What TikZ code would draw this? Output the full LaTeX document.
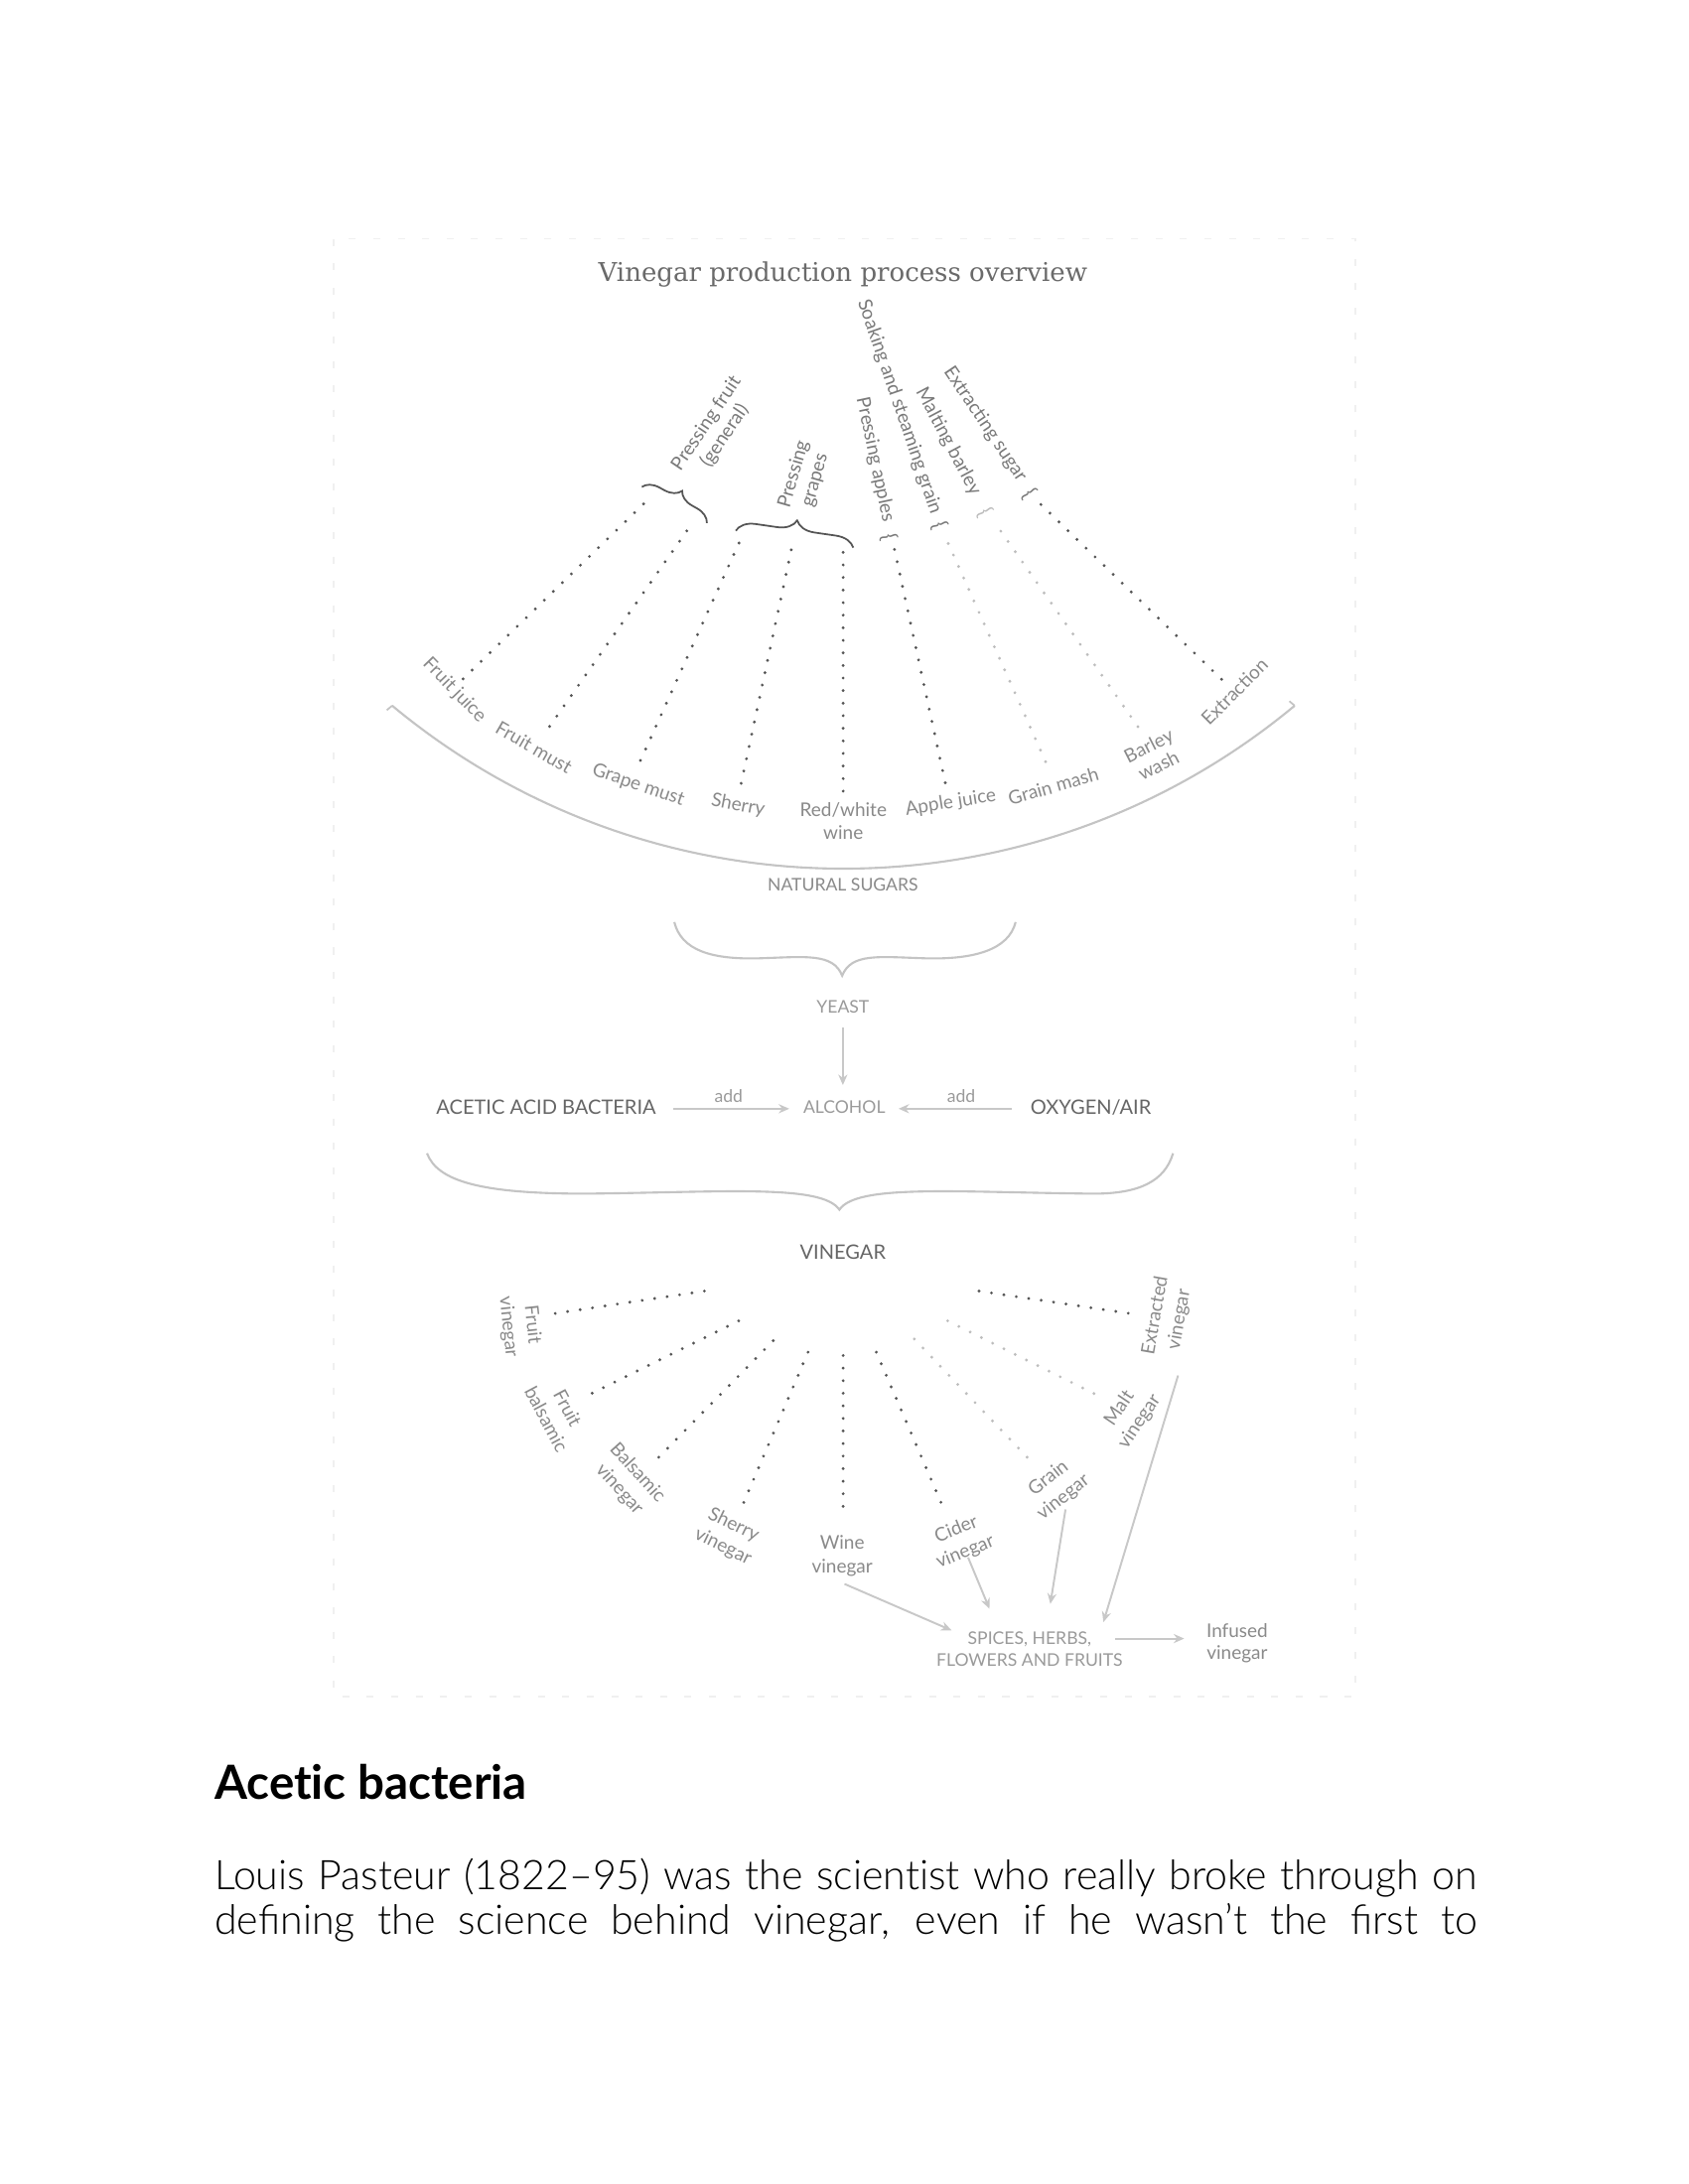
\documentclass[tikz,border=0pt]{standalone}
\usepackage{fontspec}
\usetikzlibrary{arrows.meta,decorations.pathreplacing}
\newfontfamily\lato{Lato}
\newfontfamily\slab{DejaVu Serif}
\IfFontExistsTF{Lato Light}{\newfontfamily\latolight{Lato Light}}{\newfontfamily\latolight{Lato}}
\definecolor{dotdark}{HTML}{555555}
\definecolor{dotlt}{HTML}{BDBDBD}
\definecolor{labc}{HTML}{8A8A8A}
\definecolor{procc}{HTML}{7A7A7A}
\definecolor{titlec}{HTML}{6A6A6A}
\definecolor{darkc}{HTML}{666666}
\definecolor{lightc}{HTML}{9A9A9A}
\definecolor{curvec}{HTML}{C4C4C4}
\definecolor{arrowc}{HTML}{C8C8C8}
\definecolor{framec}{HTML}{F0F0F0}
\tikzset{
  lbl/.style={font=\lato\fontsize{5.4}{6.3}\selectfont, text=labc, inner sep=0pt, align=center},
  blbl/.style={font=\lato\fontsize{5.4}{6.9}\selectfont, text=labc, inner sep=0pt, align=center},
  plbl/.style={font=\lato\fontsize{5.4}{6.3}\selectfont, text=procc, inner sep=0pt, align=center},
  bracech/.style={font=\lato\fontsize{6}{7}\selectfont, text=procc, inner sep=0pt},
  capl/.style={font=\lato\fontsize{5.0}{6.1}\selectfont, text=lightc, inner sep=0pt, align=center},
  capd/.style={font=\lato\fontsize{5.7}{6.8}\selectfont, text=darkc, inner sep=0pt},
  dotline/.style={draw=dotdark, line width=0.9pt, dash pattern=on 0pt off 3.6pt, line cap=round},
  dotlight/.style={dotline, draw=dotlt},
  arr/.style={draw=arrowc, line width=0.55pt, -{Stealth[length=3pt,width=2.6pt]}},
  bigbrace/.style={draw=curvec, line width=0.6pt},
  smallbrace/.style={draw=dotdark, line width=0.5pt, decorate},
  bodytext/.style={font=\latolight\fontsize{11.7}{14}\selectfont, anchor=base west, inner sep=0pt},
}
\begin{document}
\begin{tikzpicture}[x=0.0140264cm, y=-0.0140264cm]
\useasboundingbox (0,0) rectangle (1212,1568);
\fill[white] (0,0) rectangle (1212,1568);
% frame
\draw[framec, line width=0.5pt, dash pattern=on 2pt off 5pt] (239.6,171.5) rectangle (973,1218);
% title
\node[font=\slab\fontsize{7.4}{9}\selectfont, text=titlec, inner sep=0pt] (title) at (605,197) {Vinegar production process overview};

% ---------- top fan ----------
\draw[curvec, line width=0.6pt] (605.4,116.9) ++(129.73:506.8) coordinate (arcL)
   arc[start angle=129.73, end angle=50.27, radius=506.8] coordinate (arcR);
\draw[curvec, line width=0.5pt] (arcL) -- ++(140:5);
\draw[curvec, line width=0.5pt] (arcR) -- ++(-140:5);

\node[lbl, rotate=-46] (fjuice) at (326,495.6) {Fruit juice};
\node[lbl, rotate=-30] (fmust) at (383.3,536.5) {Fruit must};
\node[lbl, rotate=-19] (gmust) at (458.1,563.8) {Grape must};
\node[lbl, rotate=-11] (sherry) at (529.7,578.3) {Sherry};
\node[lbl] (rwwine) at (605.3,589.5) {Red/white\\wine};
\node[lbl, rotate=9] (ajuice) at (682.4,576.4) {Apple juice};
\node[lbl, rotate=16] (gmash) at (756,564.5) {Grain mash};
\node[lbl, rotate=27] (bwash) at (828,542.4) {Barley\\wash};
\node[lbl, rotate=45] (extraction) at (886,496.6) {Extraction};

\node[lbl, font=\lato\fontsize{5.0}{6.0}\selectfont] (natsug) at (605,635.5) {NATURAL SUGARS};

% process labels
\node[plbl, rotate=56] (pfruit) at (513.8,308.6) {Pressing fruit\\(general)};
\node[plbl, rotate=74] (pgrapes) at (577.5,342.7) {Pressing\\grapes};
\node[plbl, rotate=-78] (papples) at (628,330) {Pressing apples};
\node[plbl, rotate=-71] (soak) at (645.5,292) {Soaking and steaming grain};
\node[plbl, rotate=-62] (malt) at (680.5,317) {Malting barley};
\node[plbl, rotate=-56] (exsugar) at (707,304.5) {Extracting sugar};
\node[bracech, rotate=-78] (brA) at (637.9,385.7) {\{};
\node[bracech, rotate=-71] (brS) at (674.2,377.5) {\{};
\node[bracech, rotate=-62, text=dotlt] (brM) at (706.7,368) {\{};
\node[bracech, rotate=-56] (brE) at (739.2,354.7) {\{};

% small braces
\coordinate (bf1) at (460.7,349.6); \coordinate (bf2) at (507.4,375.5);
\coordinate (bg1) at (528.1,381); \coordinate (bg2) at (612.5,393.2);
\draw[smallbrace, decoration={brace, amplitude=4.6pt}] (bf1) -- (bf2);
\draw[smallbrace, decoration={brace, amplitude=5.4pt}] (bg1) -- (bg2);

% dotted lines top
\coordinate (t1a) at (332.4,487.4); \coordinate (t1b) at (463.8,360);
\coordinate (t2a) at (394.5,521.5); \coordinate (t2b) at (497,375.5);
\coordinate (t3a) at (459.7,546);   \coordinate (t3b) at (532,386.4);
\coordinate (t4a) at (532,562.4);   \coordinate (t4b) at (568.9,390.5);
\coordinate (t5a) at (605.2,568);   \coordinate (t5b) at (605.2,393.2);
\coordinate (t6a) at (678.5,562);   \coordinate (t6b) at (641.5,392);
\coordinate (t7a) at (750.5,546.8); \coordinate (t7b) at (678,384.2);
\coordinate (t8a) at (816.8,521.7); \coordinate (t8b) at (714.2,375.4);
\coordinate (t9a) at (876.8,487.7); \coordinate (t9b) at (745.5,360.6);
\draw[dotline] (t1a) -- (t1b);
\draw[dotline] (t2a) -- (t2b);
\draw[dotline] (t3a) -- (t3b);
\draw[dotline] (t4a) -- (t4b);
\draw[dotline] (t5a) -- (t5b);
\draw[dotline] (t6a) -- (t6b);
\draw[dotlight] (t7a) -- (t7b);
\draw[dotlight] (t8a) -- (t8b);
\draw[dotline] (t9a) -- (t9b);

% ---------- middle ----------
\draw[bigbrace] (484,662) .. controls (489,682) and (510,689) .. (545,688)
   .. controls (578,687) and (598,684) .. (604.5,700.5)
   .. controls (611,684) and (631,687) .. (664,688)
   .. controls (699,689) and (724,682) .. (729,662);
\node[capl] (yeast) at (605,723) {YEAST};
\node[capd] (bact) at (392,795) {ACETIC ACID BACTERIA};
\node[capl] (alcohol) at (606,795) {ALCOHOL};
\node[capd] (oxy) at (783,795) {OXYGEN/AIR};
\node[capl] (add1) at (523,787) {add};
\node[capl] (add2) at (690,787) {add};
\coordinate (ya) at (605,738); \coordinate (yb) at (605,779);
\draw[arr] (ya) -- (yb);
\coordinate (ba) at (483.5,796); \coordinate (bb) at (566.5,796);
\draw[arr] (ba) -- (bb);
\coordinate (oa) at (726.6,796); \coordinate (ob) at (645,796);
\draw[arr] (oa) -- (ob);
\draw[bigbrace] (306.5,828) .. controls (314,848) and (345,857) .. (420,857)
   .. controls (520,856) and (590,850) .. (602.5,868.5)
   .. controls (615,850) and (685,856) .. (785,857)
   .. controls (818,857) and (836,848) .. (842,828);
\node[capd] (vinegar) at (605,899) {VINEGAR};

% ---------- bottom fan ----------
\coordinate (b1a) at (505.6,926.9); \coordinate (b1b) at (394.8,943.5);
\coordinate (b2a) at (530.2,948.3); \coordinate (b2b) at (422.1,1001.7);
\coordinate (b3a) at (555,962.5);   \coordinate (b3b) at (469.8,1049.3);
\coordinate (b4a) at (580,970.8);   \coordinate (b4b) at (532.2,1082.5);
\coordinate (b5a) at (605.2,973.2); \coordinate (b5b) at (605.2,1086.1);
\coordinate (b6a) at (629,970.8);   \coordinate (b6b) at (677.1,1082.5);
\coordinate (b7a) at (656.3,961.3); \coordinate (b7b) at (740.2,1049.3);
\coordinate (b8a) at (680.2,948.3); \coordinate (b8b) at (790.3,1003);
\coordinate (b9a) at (702.7,926.9); \coordinate (b9b) at (814.2,943.5);
\draw[dotline] (b1a) -- (b1b);
\draw[dotline] (b2a) -- (b2b);
\draw[dotline] (b3a) -- (b3b);
\draw[dotline] (b4a) -- (b4b);
\draw[dotline] (b5a) -- (b5b);
\draw[dotline] (b6a) -- (b6b);
\draw[dotlight] (b7a) -- (b7b);
\draw[dotlight] (b8a) -- (b8b);
\draw[dotline] (b9a) -- (b9b);

\node[blbl, rotate=-84] (fvin) at (373.3,951.8) {Fruit\\vinegar};
\node[blbl, rotate=-62] (fbal) at (399.9,1014.8) {Fruit\\balsamic};
\node[blbl, rotate=-48] (bvin) at (451,1063.5) {Balsamic\\vinegar};
\node[blbl, rotate=-26] (svin) at (522.7,1102.8) {Sherry\\vinegar};
\node[blbl] (wvin) at (604.5,1117) {Wine\\vinegar};
\node[blbl, rotate=22] (cvin) at (689.7,1106.3) {Cider\\vinegar};
\node[blbl, rotate=38] (gvin) at (758,1068.3) {Grain\\vinegar};
\node[blbl, rotate=56] (mvin) at (810.8,1016) {Malt\\vinegar};
\node[blbl, rotate=80] (evin) at (838,945.9) {Extracted\\vinegar};

\node[capl, font=\lato\fontsize{5.0}{6.0}\selectfont] (spices) at (739,1184) {SPICES, HERBS,\\FLOWERS AND FRUITS};
\node[blbl, font=\lato\fontsize{5.4}{6.3}\selectfont] (infused) at (888,1180) {Infused\\vinegar};

\coordinate (w1) at (606.2,1137.2); \coordinate (w2) at (683,1170.5);
\coordinate (c1) at (694.9,1118.2); \coordinate (c2) at (710.2,1155);
\coordinate (g1) at (764.8,1083.7); \coordinate (g2) at (753.9,1151.5);
\coordinate (e1) at (845.6,987.5);  \coordinate (e2) at (792,1164.6);
\coordinate (s1) at (800.6,1176.4); \coordinate (s2) at (850,1176.4);
\draw[arr] (w1) -- (w2);
\draw[arr] (c1) -- (c2);
\draw[arr] (g1) -- (g2);
\draw[arr] (e1) -- (e2);
\draw[arr] (s1) -- (s2);

% ---------- body text ----------
\node[font=\lato\bfseries\fontsize{13.5}{16}\selectfont, anchor=base west, inner sep=0pt] (head) at (153.6,1291.7) {Acet\kern0pt ic bacteria};
\node[bodytext] (body1) at (153.6,1356.5) {\makebox[12.706cm][s]{Louis Pasteur (1822–95) was the scient\kern0pt ist who really broke through on}};
\node[bodytext] (body2) at (153.6,1389) {\makebox[12.706cm][s]{defining the science behind vinegar, even if he wasn’t the first to}};
\end{tikzpicture}
\end{document}
